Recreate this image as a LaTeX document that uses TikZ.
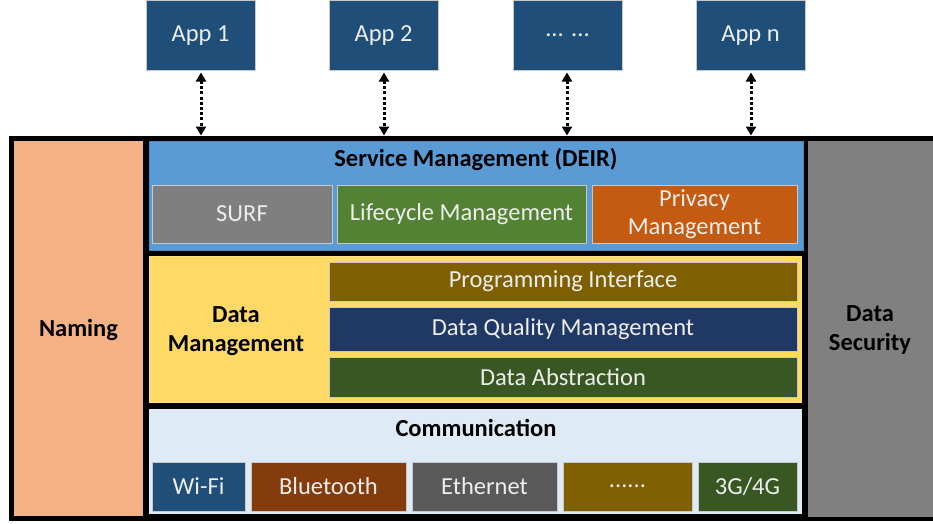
\documentclass[tikz,border=0pt]{standalone}
\usepackage{fontspec}
\setmainfont{Carlito}
\usetikzlibrary{arrows.meta}
\definecolor{appblue}{HTML}{1F4E79}
\definecolor{svcblue}{HTML}{5B9BD5}
\definecolor{svcedge}{HTML}{4A86C0}
\definecolor{surfgray}{HTML}{7F7F7F}
\definecolor{lifegreen}{HTML}{548235}
\definecolor{privorange}{HTML}{C55A11}
\definecolor{dmyellow}{HTML}{FFD966}
\definecolor{dmedge}{HTML}{FFE37F}
\definecolor{piolive}{HTML}{7F6000}
\definecolor{dqmnavy}{HTML}{203864}
\definecolor{dagreen}{HTML}{385723}
\definecolor{commblue}{HTML}{DEEBF7}
\definecolor{btbrown}{HTML}{843C0C}
\definecolor{ethgray}{HTML}{595959}
\definecolor{namingorange}{HTML}{F4B183}
\definecolor{secgray}{HTML}{808080}
\definecolor{boxtext}{HTML}{EDEDED}
\definecolor{subedge}{HTML}{C8C8C8}
\begin{document}
\begin{tikzpicture}[x=1pt,y=-1pt,
  region/.style={rectangle, inner sep=0pt, outer sep=0pt},
  sub/.style={rectangle, inner sep=0pt, outer sep=0pt, draw=subedge, line width=0.7pt,
    text=boxtext, font=\fontsize{24.5}{28}\selectfont, align=center},
  heading/.style={font=\bfseries\fontsize{24.5}{28.5}\selectfont, text=black, align=center, inner sep=0pt},
  link/.style={line width=3pt, dash pattern=on 3pt off 2.2pt,
    {Triangle[width=10pt,length=9pt]}-{Triangle[width=10pt,length=9pt]}},
]
\useasboundingbox (0,0) rectangle (933,523);
\fill[white] (0,0) rectangle (933,523);

% outer black frame
\node[region, fill=black, minimum width=924pt, minimum height=385pt] (frame) at (471,328.5) {};

% side columns
\node[region, fill=namingorange, minimum width=129pt, minimum height=375pt] (naming) at (78.5,328.5) {};
\node[heading] (namingtext) at (78.5,330) {Naming};
\node[region, fill=secgray, minimum width=125pt, minimum height=376pt] (security) at (870.5,329) {};
\node[heading] (sectext) at (870,330) {Data\\Security};

% service management
\node[region, fill=svcblue, draw=svcedge, line width=0.8pt, minimum width=654pt, minimum height=109pt] (service) at (476,195.5) {};
\node[heading] (svctitle) at (476,159) {Service Management (DEIR)};
\node[sub, fill=surfgray, minimum width=180pt, minimum height=58pt] (surf) at (242,214) {SURF};
\node[sub, fill=lifegreen, minimum width=249pt, minimum height=58pt] (life) at (461.5,214) {Lifecycle Management};
\node[sub, fill=privorange, minimum width=205pt, minimum height=58pt] (priv) at (694.5,214) {Privacy\\Management};

% data management
\node[region, fill=dmyellow, draw=dmedge, line width=1.5pt, minimum width=652pt, minimum height=146pt] (datamgmt) at (475.5,329.5) {};
\node[heading] (dmtext) at (236,331) {Data\\Management};
\node[sub, fill=piolive, minimum width=468pt, minimum height=39pt] (prog) at (563,281.5) {Programming Interface};
\node[sub, fill=dqmnavy, minimum width=468pt, minimum height=44pt] (dqm) at (563,329) {Data Quality Management};
\node[sub, fill=dagreen, minimum width=468pt, minimum height=40pt] (abs) at (563,377) {Data Abstraction};

% communication
\node[region, fill=commblue, minimum width=653pt, minimum height=105pt] (comm) at (475.5,461.5) {};
\node[heading] (commtitle) at (476,428) {Communication};
\node[sub, fill=appblue, minimum width=93pt, minimum height=49pt] (wifi) at (198.5,486.5) {Wi-Fi};
\node[sub, fill=btbrown, minimum width=155pt, minimum height=49pt] (bt) at (328.5,486.5) {Bluetooth};
\node[sub, fill=ethgray, minimum width=145pt, minimum height=49pt] (eth) at (484.5,486.5) {Ethernet};
\node[sub, fill=piolive, minimum width=129pt, minimum height=49pt] (more) at (627.5,486.5) {......};
\node[sub, fill=dagreen, minimum width=99pt, minimum height=49pt] (cell) at (747.5,486.5) {3G/4G};

% apps
\node[sub, fill=appblue, minimum width=109pt, minimum height=70pt] (app1) at (200.5,35.5) {App 1};
\node[sub, fill=appblue, minimum width=109pt, minimum height=70pt] (app2) at (383.5,35.5) {App 2};
\node[sub, fill=appblue, minimum width=109pt, minimum height=70pt] (appdots) at (567.5,35.5) {... ...};
\node[sub, fill=appblue, minimum width=109pt, minimum height=70pt] (appn) at (750.5,35.5) {App n};

\coordinate (t1) at (201,135.5);
\coordinate (t2) at (384,135.5);
\coordinate (t3) at (567,135.5);
\coordinate (t4) at (751,135.5);
\draw[link] ([yshift=-2pt]app1.south -| t1) -- (t1);
\draw[link] ([yshift=-2pt]app2.south -| t2) -- (t2);
\draw[link] ([yshift=-2pt]appdots.south -| t3) -- (t3);
\draw[link] ([yshift=-2pt]appn.south -| t4) -- (t4);
\end{tikzpicture}
\end{document}
